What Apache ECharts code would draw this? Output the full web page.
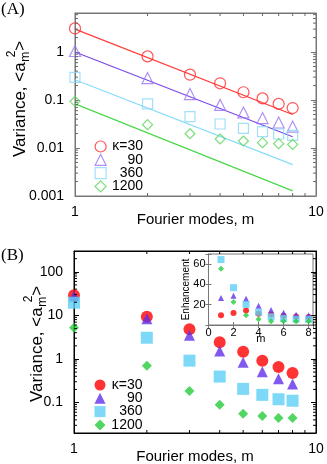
<!DOCTYPE html>
<html>
<head>
<meta charset="utf-8">
<script src="https://cdn.jsdelivr.net/npm/echarts@6/dist/echarts.min.js"></script>
<style>
  html, body { margin: 0; padding: 0; background: #fff; }
  #chart { width: 327px; height: 464px; }
</style>
</head>
<body>
<div id="chart"></div>
<script>
// ---- data ----
const modes = [1, 2, 3, 4, 5, 6, 7, 8];
const kappaLabels = ['κ=30', '90', '360', '1200'];

// (A) variance, hollow symbols
const varA30 = [3.1, 0.81, 0.337, 0.223, 0.145, 0.108, 0.083, 0.068];
const varA90 = [1.05, 0.287, 0.133, 0.079, 0.055, 0.042, 0.034, 0.028];
const varA360 = [0.297, 0.083, 0.045, 0.0316, 0.0257, 0.0219, 0.0196, 0.0184];
const varA1200 = [0.094, 0.0306, 0.0198, 0.0154, 0.014, 0.0129, 0.0123, 0.0119];

// (A) straight fit lines, end values at m=1 and m=8
const fitModes = [1, 8];
const fit30 = [3.0, 0.05];
const fit90 = [1.0, 0.0172];
const fit360 = [0.265, 0.0045];
const fit1200 = [0.083, 0.00128];

// (B) variance, filled symbols
const varB30 = [29, 9.3, 4.78, 2.41, 1.47, 0.915, 0.656, 0.478];
const varB90 = [27.7, 8.4, 3.49, 1.52, 0.84, 0.51, 0.35, 0.268];
const varB360 = [19.5, 3.07, 0.915, 0.394, 0.206, 0.15, 0.119, 0.11];
const varB1200 = [5.2, 0.70, 0.185, 0.089, 0.055, 0.049, 0.044, 0.044];

// inset: enhancement
const enh30 = [9.6, 11.8, 14.3, 11, 10.3, 9.2, 8.5, 7.8];
const enh90 = [26.6, 28.8, 26, 19, 14.8, 12, 10.2, 9.6];
const enh360 = [64.5, 36.8, 20.3, 12.5, 8, 6.5, 5.7, 5.6];
const enh1200 = [55.5, 22.7, 9.5, 5.7, 3.8, 3.7, 3.6, 3.7];

// tick labels
const xTickLabels = ['1', '10'];            // 10^0, 10^1
const yTickLabelsA = ['0.001', '0.01', '0.1', '1'];   // from 10^-3
const yTickLabelsB = ['0.1', '1', '10', '100'];       // from 10^-1
const minorSteps = [2, 3, 4, 5, 6, 7, 8, 9];
const decadesA = [0.001, 0.01, 0.1, 1];
const decadesB = [0.01, 0.1, 1, 10, 100];

// axis ranges
const rangeX = [1, 10];
const rangeYA = [0.001, 6.5];
const rangeYB = [0.02, 300];

const FONT = '"Liberation Sans", Arial, sans-serif';
const colA = ['#ff2a2a', '#9a74f4', '#8ad8f6', '#5ad65a'];
const colLineA = ['#ff3c3c', '#7a4ae8', '#86dcfa', '#4ad84a'];
const colB = ['#ff0000', '#6230ea', '#5ccff5', '#26cc3c'];
const symA = ['circle', 'triangle', 'rect', 'diamond'];
const sizeA = [11, 11, 10, 10];
const sizeB = [12, 11, 12, 10];
const sizeIn = [6, 6, 7, 6];

const chart = echarts.init(document.getElementById('chart'), null, { renderer: 'canvas' });

function logLabel(labels, firstExp) {
  return function (v) {
    const l = Math.log10(v);
    const e = Math.round(l);
    if (Math.abs(l - e) > 1e-6) return '';
    return labels[e - firstExp] || '';
  };
}

function pairs(xs, ys) { return xs.map((x, i) => [x, ys[i]]); }

// minor ticks drawn through the axes (api.coord)
function minorTickData(yRange, decades) {
  const out = [];
  minorSteps.forEach(s => out.push([s, yRange[0], 0]));
  decades.forEach(d => minorSteps.forEach(s => {
    const v = d * s;
    if (v > yRange[0] && v < yRange[1]) out.push([1, v, 1]);
  }));
  return out;
}
function minorTickSeries(gi, yRange, decades, color) {
  return {
    type: 'custom', coordinateSystem: 'cartesian2d', xAxisIndex: gi * 2, yAxisIndex: gi * 2,
    silent: true, z: 4, clip: false,
    encode: { x: 0, y: 1 },
    dimensions: ['x', 'y', 'kind'],
    data: minorTickData(yRange, decades),
    renderItem: function (params, api) {
      const kind = api.value(2);
      const L = 3;
      const st = { stroke: color, lineWidth: 1 };
      if (kind === 0) {
        const v = api.value(0);
        const b = api.coord([v, yRange[0]]);
        const t = api.coord([v, yRange[1]]);
        return { type: 'group', children: [
          { type: 'line', shape: { x1: b[0], y1: b[1], x2: b[0], y2: b[1] - L }, style: st },
          { type: 'line', shape: { x1: t[0], y1: t[1], x2: t[0], y2: t[1] + L }, style: st }
        ] };
      }
      const v = api.value(1);
      const l = api.coord([rangeX[0], v]);
      const r = api.coord([rangeX[1], v]);
      return { type: 'group', children: [
        { type: 'line', shape: { x1: l[0], y1: l[1], x2: l[0] + L, y2: l[1] }, style: st },
        { type: 'line', shape: { x1: r[0], y1: r[1], x2: r[0] - L, y2: r[1] }, style: st }
      ] };
    }
  };
}

function logX(gi, color, top) {
  return {
    type: 'log', gridIndex: gi, min: rangeX[0], max: rangeX[1], position: top ? 'top' : 'bottom',
    axisLine: { show: true, lineStyle: { color: color, width: 1 } },
    axisTick: { show: true, inside: true, length: 5, lineStyle: { color: color } },
    axisLabel: { show: !top, margin: 9, fontSize: 14, color: '#000', fontFamily: FONT,
      formatter: logLabel(xTickLabels, 0) },
    splitLine: { show: false },
    name: top ? '' : 'Fourier modes, m', nameLocation: 'middle', nameGap: 16,
    nameMoveOverlap: false,
    nameTextStyle: { fontSize: 15, color: '#000', fontFamily: FONT }
  };
}
function logY(gi, color, range, labels, firstExp, right) {
  return {
    type: 'log', gridIndex: gi, min: range[0], max: range[1], position: right ? 'right' : 'left',
    axisLine: { show: true, lineStyle: { color: color, width: 1 } },
    axisTick: { show: true, inside: true, length: 5, lineStyle: { color: color } },
    axisLabel: { show: !right, margin: 11, fontSize: 14, color: '#000', fontFamily: FONT,
      formatter: logLabel(labels, firstExp) },
    splitLine: { show: false }
  };
}

const series = [];
const varA = [varA30, varA90, varA360, varA1200];
const fitA = [fit30, fit90, fit360, fit1200];
const varB = [varB30, varB90, varB360, varB1200];
const enh = [enh30, enh90, enh360, enh1200];

fitA.forEach((f, i) => series.push({
  type: 'line', name: 'fit' + i, xAxisIndex: 0, yAxisIndex: 0, data: pairs(fitModes, f),
  symbol: 'none', lineStyle: { color: colLineA[i], width: 1.2 }, silent: true, z: 2
}));
varA.forEach((d, i) => series.push({
  type: 'scatter', name: 'A:' + kappaLabels[i], xAxisIndex: 0, yAxisIndex: 0,
  data: pairs(modes, d), symbol: symA[i], symbolSize: sizeA[i], z: 3,
  itemStyle: { color: 'rgba(0,0,0,0)', borderColor: colA[i], borderWidth: 1.2 }
}));
varB.forEach((d, i) => series.push({
  type: 'scatter', name: 'B:' + kappaLabels[i], xAxisIndex: 2, yAxisIndex: 2,
  data: pairs(modes, d), symbol: symA[i], symbolSize: sizeB[i], z: 3,
  itemStyle: { color: colB[i], borderWidth: 0 }
}));
enh.forEach((d, i) => series.push({
  type: 'scatter', name: 'in' + i, xAxisIndex: 4, yAxisIndex: 4,
  data: pairs(modes, d), symbol: symA[i], symbolSize: sizeIn[i], z: 5,
  itemStyle: { color: colB[i], borderWidth: 0 }
}));
series.push(minorTickSeries(0, rangeYA, decadesA, '#666'));
series.push(minorTickSeries(1, rangeYB, decadesB, '#000'));

function legendFor(prefix, top, hollow) {
  return {
    orient: 'vertical', left: 94.5, top: top, padding: 0, itemGap: -0.7,
    itemWidth: 11, itemHeight: 11, selectedMode: false,
    data: kappaLabels.map(k => prefix + k),
    formatter: n => '{r|' + n.slice(2) + '}',
    itemStyle: hollow ? { borderWidth: 1.2 } : { borderWidth: 0 },
    textStyle: { rich: { r: { width: 32, align: 'right', fontSize: 14, lineHeight: 13,
      color: '#000', fontFamily: FONT } } }
  };
}

// y-axis title with stacked sub/superscript, measured with canvas
const mctx = document.createElement('canvas').getContext('2d');
function textW(t, f) { mctx.font = f; return mctx.measureText(t).width; }
function yTitle(cx, startY) {
  const big = '17px ' + FONT, small = '12px ' + FONT;
  const w1 = textW('Variance, <a', big);
  const wm = textW('m', small);
  return {
    type: 'group', x: cx, y: startY, rotation: Math.PI / 2, silent: true,
    children: [
      { type: 'text', x: 0, y: 0, style: { text: 'Variance, <a', font: big, fill: '#000', verticalAlign: 'middle' } },
      { type: 'text', x: w1 + 0.5, y: 6, style: { text: 'm', font: small, fill: '#000', verticalAlign: 'middle' } },
      { type: 'text', x: w1 + wm * 0.5, y: -8, style: { text: '2', font: small, fill: '#000', verticalAlign: 'middle' } },
      { type: 'text', x: w1 + wm + 1.5, y: 0, style: { text: '>', font: big, fill: '#000', verticalAlign: 'middle' } }
    ]
  };
}

const option = {
  animation: false,
  backgroundColor: '#fff',
  grid: [
    { left: 75, top: 13, width: 241, height: 183, show: true, borderColor: '#777', borderWidth: 1, outerBoundsMode: 'none' },
    { left: 74, top: 251, width: 242, height: 182, show: true, borderColor: '#000', borderWidth: 1, outerBoundsMode: 'none' },
    { left: 208.5, top: 254, width: 104.5, height: 71, show: true, borderColor: '#777', borderWidth: 1,
      backgroundColor: '#fff', outerBoundsMode: 'none' }
  ],
  xAxis: [
    logX(0, '#777', false), logX(0, '#777', true),
    logX(1, '#000', false), logX(1, '#000', true),
    {
      type: 'value', gridIndex: 2, min: 0, max: 8.35, interval: 2,
      axisLine: { lineStyle: { color: '#777' } },
      axisTick: { inside: true, length: 3, lineStyle: { color: '#777' } },
      axisLabel: { margin: 2, fontSize: 11, color: '#000', fontFamily: FONT,
        formatter: v => (v % 2 === 0 ? String(v) : '') },
      splitLine: { show: false },
      name: 'm', nameLocation: 'middle', nameGap: 8, nameMoveOverlap: false,
      nameTextStyle: { fontSize: 11, color: '#000', fontFamily: FONT }
    },
    {
      type: 'value', gridIndex: 2, min: 0, max: 8.35, interval: 2, position: 'top',
      axisLine: { lineStyle: { color: '#777' } },
      axisTick: { inside: true, length: 3, lineStyle: { color: '#777' } },
      axisLabel: { show: false }, splitLine: { show: false }
    }
  ],
  yAxis: [
    logY(0, '#777', rangeYA, yTickLabelsA, -3, false), logY(0, '#777', rangeYA, yTickLabelsA, -3, true),
    logY(1, '#000', rangeYB, yTickLabelsB, -1, false), logY(1, '#000', rangeYB, yTickLabelsB, -1, true),
    {
      type: 'value', gridIndex: 2, min: 0, max: 70, interval: 20,
      axisLine: { lineStyle: { color: '#777' } },
      axisTick: { inside: true, length: 3, lineStyle: { color: '#777' } },
      axisLabel: { margin: 3, fontSize: 11, color: '#000', fontFamily: FONT,
        formatter: v => (v === 0 || v % 20 !== 0 ? '' : String(v)) },
      splitLine: { show: false },
      name: 'Enhancement', nameLocation: 'middle', nameGap: 17, nameRotate: 90, nameMoveOverlap: false,
      nameTextStyle: { fontSize: 10, color: '#000', fontFamily: FONT }
    },
    {
      type: 'value', gridIndex: 2, min: 0, max: 70, interval: 20, position: 'right',
      axisLine: { lineStyle: { color: '#777' } },
      axisTick: { inside: true, length: 3, lineStyle: { color: '#777' } },
      axisLabel: { show: false }, splitLine: { show: false }
    }
  ],
  legend: [legendFor('A:', 139.5, true), legendFor('B:', 378, false)],
  graphic: [
    { type: 'text', left: 1, top: 1, style: { text: '(A)', font: '17px "Liberation Serif", serif', fill: '#000' } },
    { type: 'text', left: 1, top: 247, style: { text: '(B)', font: '17px "Liberation Serif", serif', fill: '#000' } },
    yTitle(20, 157),
    yTitle(37, 402)
  ],
  series: series
};

chart.setOption(option);
window.addEventListener('resize', () => chart.resize(), false);
</script>
</body>
</html>
